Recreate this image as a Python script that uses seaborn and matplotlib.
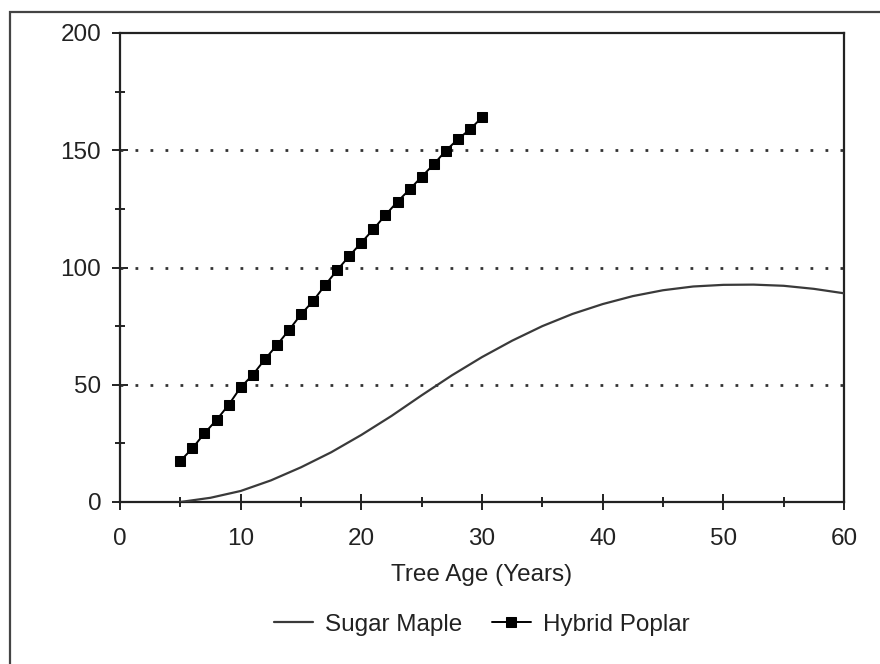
import numpy as np
import pandas as pd
import seaborn as sns
import matplotlib.pyplot as plt
from matplotlib.patches import Rectangle
from matplotlib.ticker import MultipleLocator

# ----- Data -----
maple_age = [5, 7.5, 10, 12.5, 15, 17.5, 20, 22.5, 25, 27.5, 30, 32.5, 35,
             37.5, 40, 42.5, 45, 47.5, 50, 52.5, 55, 57.5, 60]
maple_value = [0.0, 1.8, 4.7, 9.2, 14.8, 21.2, 28.6, 36.7, 45.5, 54.0, 61.8,
               68.8, 75.0, 80.2, 84.4, 87.8, 90.3, 91.9, 92.6, 92.7, 92.2,
               90.9, 89.0]

poplar_age = list(range(5, 31))
poplar_value = [17.5, 22.9, 29.3, 35.0, 41.4, 48.9, 54.2, 60.8, 66.9, 73.3,
                80.0, 85.7, 92.5, 98.9, 104.9, 110.6, 116.3, 122.4, 128.1,
                133.3, 138.7, 144.0, 149.8, 154.7, 158.9, 164.0]

x_ticks = [0, 10, 20, 30, 40, 50, 60]
y_ticks = [0, 50, 100, 150, 200]
grid_levels = [50, 100, 150]

maple = pd.DataFrame({"age": maple_age, "value": maple_value})
poplar = pd.DataFrame({"age": poplar_age, "value": poplar_value})

# ----- Style -----
sns.set_style("white")
plt.rcParams["font.family"] = ["Liberation Sans", "DejaVu Sans"]
FS = 17.5

fig = plt.figure(figsize=(8.8, 6.64), dpi=100)
ax = fig.add_axes([120 / 880, 1 - 502 / 664, 724 / 880, 469 / 664])

# dotted horizontal guides
for lev in grid_levels:
    ax.axhline(lev, color="#333333", lw=2.0, ls=(0, (1.0, 4.4)), zorder=1)

sns.lineplot(data=maple, x="age", y="value", ax=ax, color="#3a3a3a",
             lw=1.6, label="Sugar Maple", zorder=3)
sns.lineplot(data=poplar, x="age", y="value", ax=ax, color="black",
             lw=1.4, marker="s", markersize=6.5, markeredgecolor="black",
             label="Hybrid Poplar", zorder=4)

ax.set_xlim(0, 60)
ax.set_ylim(0, 200)
ax.set_xticks(x_ticks)
ax.set_yticks(y_ticks)
ax.xaxis.set_minor_locator(MultipleLocator(5))
ax.yaxis.set_minor_locator(MultipleLocator(25))
ax.tick_params(which="both", bottom=True, left=True, top=False, right=False)
ax.tick_params(which="major", direction="inout", length=11, width=1.4,
               color="#222222", labelsize=FS, labelcolor="#222222")
ax.tick_params(axis="x", which="major", pad=13)
ax.tick_params(axis="y", which="major", pad=8)
ax.tick_params(which="minor", direction="inout", length=7.5, width=1.4,
               color="#222222")

for s in ax.spines.values():
    s.set_color("#222222")
    s.set_linewidth(1.6)

ax.set_xlabel("Tree Age (Years)", fontsize=FS, color="#222222", labelpad=10)
ax.set_ylabel("")

ax.legend(loc="center", bbox_to_anchor=(0.5, -0.262), ncol=2, frameon=False,
          fontsize=FS, handlelength=1.6, handletextpad=0.5, columnspacing=1.2,
          labelcolor="#222222")

# outer frame (runs off the right and bottom of the picture)
fig.patches.append(Rectangle((10 / 880, -0.2), 1.5, 1.2 - 12 / 664,
                             transform=fig.transFigure, fill=False,
                             edgecolor="#444444", lw=1.6, clip_on=False))

fig.savefig("out.png", dpi=100)
